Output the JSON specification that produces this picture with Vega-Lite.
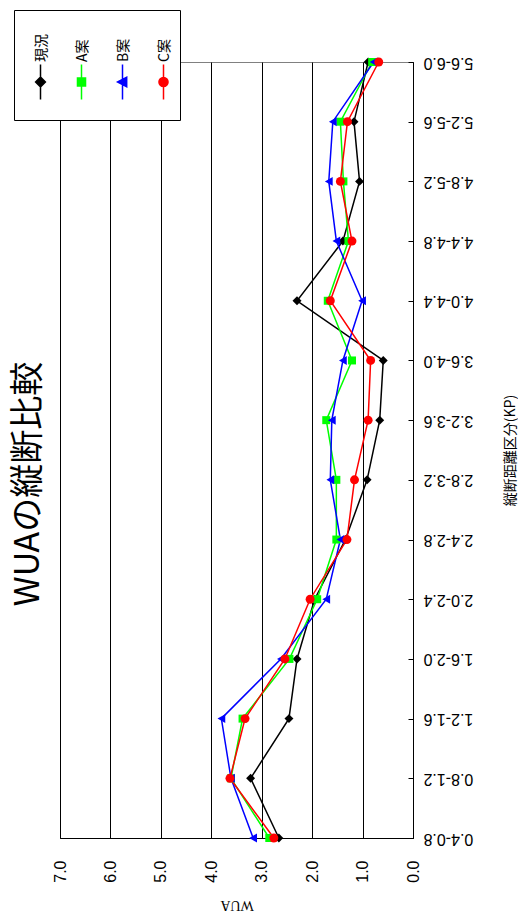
{
  "$schema": "https://vega.github.io/schema/vega-lite/v6.json",
  "autosize": "none",
  "padding": {"left": 60, "top": 62, "right": 105, "bottom": 83},
  "width": 353,
  "height": 776,
  "background": "#ffffff",
  "title": {
    "text": "WUAの縦断比較",
    "orient": "left",
    "anchor": "middle",
    "angle": -90,
    "baseline": "bottom",
    "offset": -26,
    "dx": -34,
    "dy": 40,
    "font": "Noto Sans CJK JP",
    "fontSize": 34,
    "fontWeight": "normal",
    "color": "#000000"
  },
  "config": {
    "view": {"stroke": "#808080", "strokeWidth": 1},
    "axis": {
      "labelFont": "Liberation Sans",
      "labelFontSize": 16,
      "labelColor": "#000000",
      "domainColor": "#000000",
      "tickColor": "#000000",
      "titleColor": "#000000",
      "titleFontWeight": "normal"
    }
  },
  "data": {
    "values": [
      {"section": "0.4-0.8", "case": "現況", "wua": 2.66},
      {"section": "0.8-1.2", "case": "現況", "wua": 3.22},
      {"section": "1.2-1.6", "case": "現況", "wua": 2.46},
      {"section": "1.6-2.0", "case": "現況", "wua": 2.30},
      {"section": "2.0-2.4", "case": "現況", "wua": 1.95},
      {"section": "2.4-2.8", "case": "現況", "wua": 1.34},
      {"section": "2.8-3.2", "case": "現況", "wua": 0.91},
      {"section": "3.2-3.6", "case": "現況", "wua": 0.66},
      {"section": "3.6-4.0", "case": "現況", "wua": 0.59},
      {"section": "4.0-4.4", "case": "現況", "wua": 2.30},
      {"section": "4.4-4.8", "case": "現況", "wua": 1.39},
      {"section": "4.8-5.2", "case": "現況", "wua": 1.06},
      {"section": "5.2-5.6", "case": "現況", "wua": 1.17},
      {"section": "5.6-6.0", "case": "現況", "wua": 0.89},
      {"section": "0.4-0.8", "case": "A案", "wua": 2.85},
      {"section": "0.8-1.2", "case": "A案", "wua": 3.61},
      {"section": "1.2-1.6", "case": "A案", "wua": 3.38},
      {"section": "1.6-2.0", "case": "A案", "wua": 2.45},
      {"section": "2.0-2.4", "case": "A案", "wua": 1.90},
      {"section": "2.4-2.8", "case": "A案", "wua": 1.52},
      {"section": "2.8-3.2", "case": "A案", "wua": 1.52},
      {"section": "3.2-3.6", "case": "A案", "wua": 1.72},
      {"section": "3.6-4.0", "case": "A案", "wua": 1.21},
      {"section": "4.0-4.4", "case": "A案", "wua": 1.69},
      {"section": "4.4-4.8", "case": "A案", "wua": 1.28},
      {"section": "4.8-5.2", "case": "A案", "wua": 1.38},
      {"section": "5.2-5.6", "case": "A案", "wua": 1.44},
      {"section": "5.6-6.0", "case": "A案", "wua": 0.81},
      {"section": "0.4-0.8", "case": "B案", "wua": 3.17},
      {"section": "0.8-1.2", "case": "B案", "wua": 3.61},
      {"section": "1.2-1.6", "case": "B案", "wua": 3.80},
      {"section": "1.6-2.0", "case": "B案", "wua": 2.62},
      {"section": "2.0-2.4", "case": "B案", "wua": 1.72},
      {"section": "2.4-2.8", "case": "B案", "wua": 1.44},
      {"section": "2.8-3.2", "case": "B案", "wua": 1.64},
      {"section": "3.2-3.6", "case": "B案", "wua": 1.61},
      {"section": "3.6-4.0", "case": "B案", "wua": 1.39},
      {"section": "4.0-4.4", "case": "B案", "wua": 1.01},
      {"section": "4.4-4.8", "case": "B案", "wua": 1.52},
      {"section": "4.8-5.2", "case": "B案", "wua": 1.67},
      {"section": "5.2-5.6", "case": "B案", "wua": 1.59},
      {"section": "5.6-6.0", "case": "B案", "wua": 0.78},
      {"section": "0.4-0.8", "case": "C案", "wua": 2.76},
      {"section": "0.8-1.2", "case": "C案", "wua": 3.63},
      {"section": "1.2-1.6", "case": "C案", "wua": 3.33},
      {"section": "1.6-2.0", "case": "C案", "wua": 2.54},
      {"section": "2.0-2.4", "case": "C案", "wua": 2.04},
      {"section": "2.4-2.8", "case": "C案", "wua": 1.31},
      {"section": "2.8-3.2", "case": "C案", "wua": 1.16},
      {"section": "3.2-3.6", "case": "C案", "wua": 0.89},
      {"section": "3.6-4.0", "case": "C案", "wua": 0.84},
      {"section": "4.0-4.4", "case": "C案", "wua": 1.64},
      {"section": "4.4-4.8", "case": "C案", "wua": 1.21},
      {"section": "4.8-5.2", "case": "C案", "wua": 1.44},
      {"section": "5.2-5.6", "case": "C案", "wua": 1.30},
      {"section": "5.6-6.0", "case": "C案", "wua": 0.68}
    ]
  },
  "encoding": {
    "x": {
      "field": "wua",
      "type": "quantitative",
      "scale": {"domain": [0, 7], "reverse": true, "nice": false, "zero": true},
      "axis": {
        "title": "WUA",
        "values": [0, 1, 2, 3, 4, 5, 6, 7],
        "format": ".1f",
        "grid": true,
        "gridColor": "#000000",
        "gridWidth": 1,
        "tickSize": -5,
        "labelAngle": -90,
        "labelAlign": "right",
        "labelBaseline": "middle",
        "labelPadding": 27,
        "titleAngle": 180,
        "titleBaseline": "bottom",
        "titleFont": "Liberation Sans Narrow",
        "titleFontSize": 14,
        "titlePadding": 15
      }
    },
    "y": {
      "field": "section",
      "type": "ordinal",
      "scale": {
        "type": "point",
        "padding": 0,
        "domain": ["5.6-6.0", "5.2-5.6", "4.8-5.2", "4.4-4.8", "4.0-4.4", "3.6-4.0", "3.2-3.6", "2.8-3.2", "2.4-2.8", "2.0-2.4", "1.6-2.0", "1.2-1.6", "0.8-1.2", "0.4-0.8"]
      },
      "axis": {
        "orient": "right",
        "title": "縦断距離区分(KP)",
        "grid": false,
        "tickSize": -5,
        "labelAngle": 180,
        "labelAlign": "right",
        "labelBaseline": "middle",
        "labelPadding": 15,
        "titleAngle": -90,
        "titleBaseline": "top",
        "titleFont": "Noto Sans CJK JP",
        "titleFontSize": 14,
        "titlePadding": 31
      }
    },
    "color": {
      "field": "case",
      "type": "nominal",
      "scale": {
        "domain": ["現況", "A案", "B案", "C案"],
        "range": ["#000000", "#00ff00", "#0000ff", "#ff0000"]
      },
      "legend": {
        "title": null,
        "orient": "none",
        "legendX": -46,
        "legendY": -52,
        "direction": "horizontal",
        "columns": 4,
        "columnPadding": 14,
        "padding": 8,
        "clipHeight": 94,
        "symbolSize": 1225,
        "labelFont": "Noto Sans CJK JP",
        "labelFontSize": 14,
        "labelColor": "#000000",
        "labelOffset": -17.5,
        "strokeColor": "#000000",
        "fillColor": "#ffffff",
        "encode": {
          "labels": {
            "update": {
              "y": {"value": 64},
              "angle": {"value": -90},
              "align": {"value": "left"},
              "baseline": {"value": "middle"},
              "dx": {"value": 20}
            }
          },
          "symbols": {
            "update": {
              "y": {"value": 64},
              "shape": {"signal": "datum.value === '現況' ? 'M0,-1V1M0,-0.28L0.28,0L0,0.28L-0.28,0Z' : datum.value === 'A案' ? 'M0,-1V1M-0.23,-0.23H0.23V0.23H-0.23Z' : datum.value === 'B案' ? 'M0,-1V1M-0.28,0L0.24,-0.27L0.24,0.27Z' : 'M0,-1V1M0.26,0A0.26,0.26,0,1,1,-0.26,0A0.26,0.26,0,1,1,0.26,0Z'"},
              "size": {"value": 1225},
              "fill": {"signal": "scale('color', datum.value)"},
              "stroke": {"signal": "scale('color', datum.value)"},
              "strokeWidth": {"value": 1.5},
              "opacity": {"value": 1}
            }
          }
        }
      }
    }
  },
  "layer": [
    {
      "mark": {"type": "line", "strokeWidth": 1.5},
      "encoding": {"order": {"field": "section", "type": "ordinal"}}
    },
    {
      "transform": [{"filter": "datum.case === '現況'"}],
      "mark": {"type": "point", "filled": true, "opacity": 1, "size": 80, "shape": "diamond"}
    },
    {
      "transform": [{"filter": "datum.case === 'A案'"}],
      "mark": {"type": "point", "filled": true, "opacity": 1, "size": 64, "shape": "square"}
    },
    {
      "transform": [{"filter": "datum.case === 'B案'"}],
      "mark": {"type": "point", "filled": true, "opacity": 1, "size": 80, "shape": "triangle-left"}
    },
    {
      "transform": [{"filter": "datum.case === 'C案'"}],
      "mark": {"type": "point", "filled": true, "opacity": 1, "size": 80, "shape": "circle"}
    }
  ]
}
